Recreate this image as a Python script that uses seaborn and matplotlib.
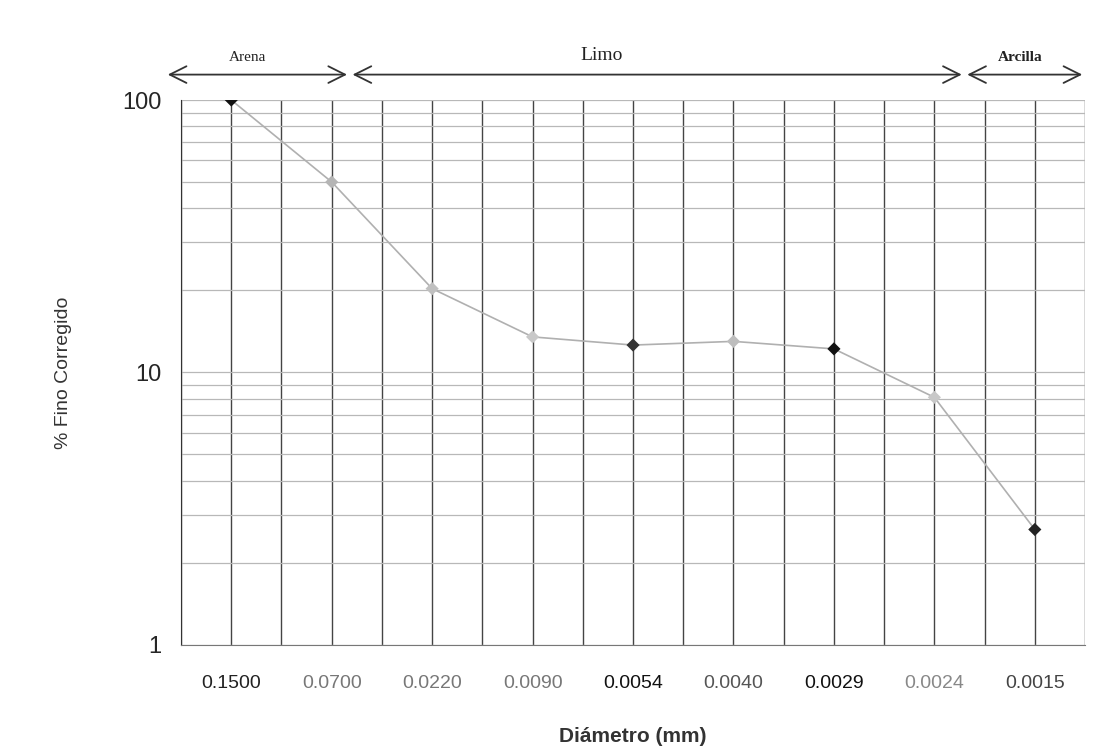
import numpy as np
import pandas as pd
import seaborn as sns
import matplotlib.pyplot as plt
from matplotlib.ticker import LogLocator, NullFormatter, FixedLocator

# datos del ensayo
diametros = ['0.1500', '0.0700', '0.0220', '0.0090', '0.0054', '0.0040', '0.0029', '0.0024', '0.0015']
fino = [100, 50, 20.3, 13.5, 12.6, 13.0, 12.2, 8.1, 2.65]
color_punto = ['#111111', '#b5b5b5', '#c0c0c0', '#c8c8c8', '#333333', '#bdbdbd', '#111111', '#c8c8c8', '#222222']
color_etiqueta = ['#222222', '#777777', '#777777', '#777777', '#111111', '#555555', '#111111', '#888888', '#444444']

zonas = ['Arena', 'Limo', 'Arcilla']
limites = [-0.66, 1.18, 7.3, 8.5]
pos_texto = [0.16, 3.69, 7.85]

df = pd.DataFrame({'Diametro': diametros, 'Fino': fino})
df['pos'] = range(len(df))

sns.set_style('white')
plt.rcParams['font.family'] = ['Liberation Sans', 'DejaVu Sans']

fig = plt.figure(figsize=(10.94, 7.55), dpi=100)
ax = fig.add_axes([0.1655, 0.146, 0.8263, 0.7215])

sns.lineplot(data=df, x='pos', y='Fino', color='#b0b0b0', linewidth=1.2, ax=ax, zorder=3)
ax.scatter(df['pos'], df['Fino'], marker='D', s=45, c=color_punto, zorder=4, edgecolors='none')

ax.set_yscale('log')
ax.set_ylim(1, 100)
ax.set_xlim(-0.5, 8.5)

# rejilla
ax.yaxis.set_major_locator(LogLocator(base=10))
ax.yaxis.set_minor_locator(LogLocator(base=10, subs=np.arange(2, 10)))
ax.yaxis.set_minor_formatter(NullFormatter())
ax.grid(True, which='both', axis='y', color='#b8b8b8', linewidth=0.9)
ax.set_xticks(df['pos'])
ax.xaxis.set_minor_locator(FixedLocator(np.arange(-0.5, 8.6, 1.0)))
ax.grid(True, which='both', axis='x', color='#444444', linewidth=1.0)
ax.tick_params(axis='x', which='both', length=0, pad=22)
ax.tick_params(axis='y', which='both', length=0, labelsize=17, pad=14)
ax.set_yticks([1, 10, 100])
ax.set_yticklabels(['1', '10', '100'])
ax.set_xticklabels(diametros, fontsize=14)
for lab, c in zip(ax.get_xticklabels(), color_etiqueta):
    lab.set_color(c)

for s in ['top', 'right']:
    ax.spines[s].set_visible(False)
ax.spines['left'].set_color('#333333')
ax.spines['bottom'].set_color('#777777')

ax.set_xlabel('Diámetro (mm)', fontsize=15, fontweight='bold', color='#333333', labelpad=25)
ax.set_ylabel('% Fino Corregido', fontsize=14, color='#333333', labelpad=36)

# flechas de clasificacion
y_flecha = 124
tam = [11, 14, 11]
for i, z in enumerate(zonas):
    x0, x1 = limites[i], limites[i + 1]
    ax.annotate('', xy=(x0, y_flecha), xytext=(x1, y_flecha), xycoords=('data', 'data'),
                arrowprops=dict(arrowstyle='<->', color='#333333', lw=1.3, mutation_scale=30), annotation_clip=False)
    ax.text(pos_texto[i], 136, z, fontsize=tam[i], ha='center', va='bottom',
            family='Liberation Serif', fontweight='bold' if i == 2 else 'normal', color='#222222', clip_on=False)

plt.savefig('out.png', dpi=100)
